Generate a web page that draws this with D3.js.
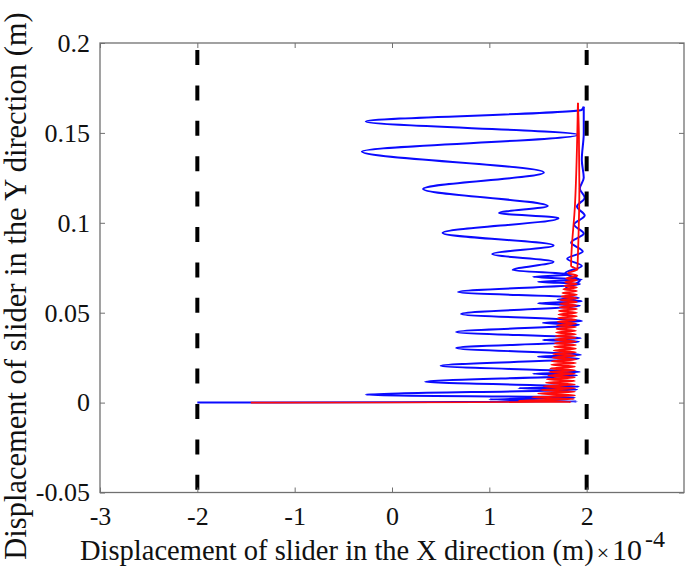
<!DOCTYPE html>
<html>
<head>
<meta charset="utf-8">
<script src="https://cdn.jsdelivr.net/npm/d3@7/dist/d3.min.js"></script>
<style>
  html, body { margin: 0; padding: 0; background: #fff; }
  svg { display: block; }
  text { font-family: "Liberation Serif", "Times New Roman", serif; fill: #111; }
</style>
</head>
<body>
<svg id="chart" width="685" height="571"></svg>
<script>
// ---- data (x in units of 1e-4 m, y in m) ----
const xTicks = [-3, -2, -1, 0, 1, 2];
const xTickLabels = ["-3", "-2", "-1", "0", "1", "2"];
const yTicks = [-0.05, 0, 0.05, 0.1, 0.15, 0.2];
const yTickLabels = ["-0.05", "0", "0.05", "0.1", "0.15", "0.2"];
const limitLines = [-2, 2];

// blue trajectory, rising part (turning points)
const blueX = [-2.00, 1.90, 1.00, 1.88, -0.27,
  1.90, 1.30, 1.92, 0.34,
  1.90, 1.45, 1.93, 0.50,
  1.92, 1.50, 1.94, 0.66,
  1.92, 1.55, 1.94, 0.66,
  1.92, 1.55, 1.95, 0.71,
  1.93, 1.50, 1.95, 1.70, 1.92, 0.68,
  1.93, 1.50, 1.95, 1.45, 1.85, 1.24,
  1.66, 1.03, 1.66, 0.52, 1.71, 1.10, 1.60, 0.32, 1.56, -0.31, 1.91, -0.27, 1.95, 1.97];
const blueY = [0.0000, 0.0006, 0.0018, 0.0028, 0.0044,
  0.0073, 0.0080, 0.0088, 0.0116,
  0.0152, 0.0160, 0.0170, 0.0205,
  0.0245, 0.0255, 0.0265, 0.0304,
  0.0340, 0.0348, 0.0358, 0.0393,
  0.0433, 0.0443, 0.0453, 0.0493,
  0.0540, 0.0552, 0.0564, 0.0574, 0.0582, 0.0615,
  0.0660, 0.0672, 0.0684, 0.0700, 0.0712, 0.0737,
  0.0783, 0.0826, 0.0874, 0.0943, 0.1026, 0.1054, 0.1093, 0.1188, 0.1280, 0.1396, 0.1490, 0.1563, 0.1628, 0.1646];

// blue trajectory, part hugging the right limit
const blueEdgeX = [1.78, 1.93, 1.78, 1.95, 1.80, 1.96, 1.84, 1.97, 1.87, 1.98, 1.90, 1.98, 1.93, 1.97, 1.95, 1.97, 1.97];
const blueEdgeY = [0.064, 0.068, 0.072, 0.076, 0.080, 0.084, 0.089, 0.094, 0.099, 0.104, 0.109, 0.114, 0.119, 0.125, 0.135, 0.150, 0.1646];

// red trajectory (turning points)
const redX = [-1.45, 1.84,
  1.30, 1.87, 1.44, 1.88, 1.50, 1.88, 1.53, 1.88, 1.56, 1.88,
  1.58, 1.88, 1.59, 1.88, 1.605, 1.88, 1.615, 1.88, 1.625, 1.88,
  1.635, 1.89, 1.64, 1.89, 1.65, 1.89, 1.655, 1.89, 1.66, 1.89,
  1.665, 1.89, 1.67, 1.89, 1.675, 1.89, 1.68, 1.89, 1.685, 1.89,
  1.69, 1.89, 1.695, 1.89, 1.70, 1.89, 1.705, 1.90, 1.71, 1.90,
  1.715, 1.90, 1.72, 1.90, 1.725, 1.90, 1.73, 1.90, 1.74, 1.90,
  1.75, 1.90, 1.76, 1.90, 1.77, 1.90, 1.78, 1.90, 1.79, 1.905,
  1.81, 1.905, 1.84, 1.88, 1.91];
const redY = [0.0000, 0.0003,
  0.001, 0.002, 0.003, 0.004, 0.005, 0.006, 0.007, 0.008, 0.009, 0.010,
  0.011, 0.012, 0.013, 0.014, 0.015, 0.016, 0.017, 0.018, 0.019, 0.020,
  0.021, 0.022, 0.023, 0.024, 0.025, 0.026, 0.027, 0.028, 0.029, 0.030,
  0.031, 0.032, 0.033, 0.034, 0.035, 0.036, 0.037, 0.038, 0.039, 0.040,
  0.041, 0.042, 0.043, 0.044, 0.045, 0.046, 0.047, 0.048, 0.049, 0.050,
  0.051, 0.052, 0.053, 0.054, 0.055, 0.056, 0.057, 0.058, 0.059, 0.060,
  0.061, 0.062, 0.063, 0.064, 0.065, 0.066, 0.067, 0.068, 0.069, 0.0705,
  0.072, 0.074, 0.076, 0.110, 0.1667];

// red trajectory, second strand near the top
const redEdgeX = [1.905, 1.915, 1.925, 1.92, 1.91];
const redEdgeY = [0.0740, 0.0900, 0.1200, 0.1500, 0.1667];

// ---- layout ----
const svg = d3.select("#chart");
const L = 100, R = 684, T = 43, B = 492.5;
const x = d3.scaleLinear().domain([-3, 3]).range([L, R]);
const y = d3.scaleLinear().domain([-0.05, 0.2]).range([B, T]);
const axisColor = "#707070";

svg.append("defs").append("clipPath").attr("id", "plotclip")
  .append("rect").attr("x", L).attr("y", T).attr("width", R - L).attr("height", B - T);

const plot = svg.append("g").attr("clip-path", "url(#plotclip)");

const line = d3.line()
  .x(d => x(d[0])).y(d => y(d[1]))
  .curve(d3.curveMonotoneY);

const zip = (a, b) => a.map((v, i) => [v, b[i]]);

const blueColor = "#0a0aff", redColor = "#ff0a0a";

[zip(blueX, blueY), zip(blueEdgeX, blueEdgeY)].forEach(data => {
  plot.append("path").datum(data)
    .attr("d", line).attr("fill", "none")
    .attr("stroke", blueColor).attr("stroke-width", 2).attr("stroke-linejoin", "round");
});

[zip(redX, redY), zip(redEdgeX, redEdgeY)].forEach(data => {
  plot.append("path").datum(data)
    .attr("d", line).attr("fill", "none")
    .attr("stroke", redColor).attr("stroke-width", 1.8).attr("stroke-linejoin", "round");
});

// dashed limit lines
plot.selectAll("line.limit").data(limitLines).enter().append("line")
  .attr("class", "limit")
  .attr("x1", d => x(d)).attr("x2", d => x(d))
  .attr("y1", y(0.2)).attr("y2", y(-0.05))
  .attr("stroke", "#000").attr("stroke-width", 4)
  .attr("stroke-dasharray", "15,20.4").attr("stroke-dashoffset", 28.4);

// axes
const styleAxis = g => {
  g.select(".domain").remove();
  g.selectAll(".tick line").attr("stroke", axisColor);
};

svg.append("g").attr("transform", `translate(0,${B})`)
  .call(d3.axisBottom(x).tickValues(xTicks).tickFormat((d, i) => xTickLabels[i]).tickSize(-5).tickPadding(14))
  .call(styleAxis)
  .selectAll("text").attr("font-size", 26).attr("font-family", "Liberation Serif").attr("fill", "#111");

svg.append("g").attr("transform", `translate(0,${T})`)
  .call(d3.axisTop(x).tickValues(xTicks).tickFormat("").tickSize(-5))
  .call(styleAxis);

svg.append("g").attr("transform", `translate(${L},0)`)
  .call(d3.axisLeft(y).tickValues(yTicks).tickFormat((d, i) => yTickLabels[i]).tickSize(-5).tickPadding(10))
  .call(styleAxis)
  .selectAll("text").attr("font-size", 26).attr("font-family", "Liberation Serif").attr("fill", "#111");

svg.append("g").attr("transform", `translate(${R},0)`)
  .call(d3.axisRight(y).tickValues(yTicks).tickFormat("").tickSize(-5))
  .call(styleAxis);

svg.append("rect").attr("x", L).attr("y", T).attr("width", R - L).attr("height", B - T)
  .attr("fill", "none").attr("stroke", axisColor).attr("stroke-width", 1.3);

// axis titles
const xt = svg.append("text").attr("x", 80).attr("y", 560).attr("font-size", 28.5);
xt.append("tspan").text("Displacement of slider in the X direction (m)");
xt.append("tspan").attr("font-size", 22).attr("dx", 3).text("×");
xt.append("tspan").attr("font-size", 30).attr("dx", 3).text("10");
xt.append("tspan").attr("font-size", 24).attr("dx", 3).attr("dy", -13).text("-4");

svg.append("text")
  .attr("transform", "translate(26,286) rotate(-90)")
  .attr("text-anchor", "middle").attr("font-size", 30.5)
  .text("Displacement of slider in the Y direction (m)");
</script>
</body>
</html>
